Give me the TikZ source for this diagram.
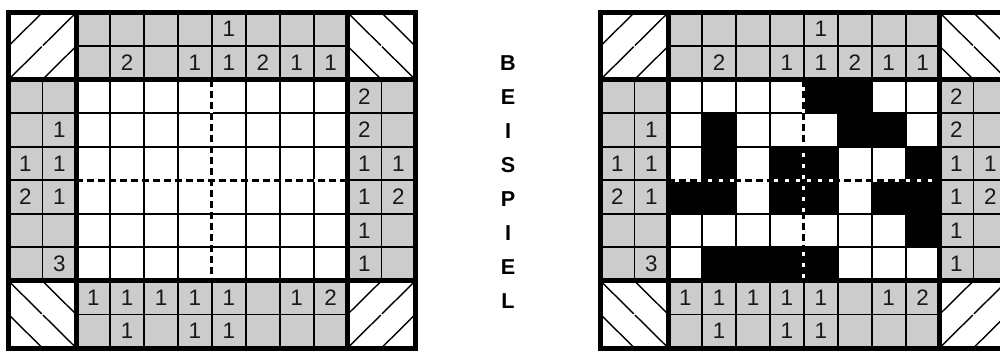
\documentclass[tikz,border=0pt]{standalone}
\usepackage{fontspec}
\setmainfont{Liberation Sans}
\definecolor{cluegray}{RGB}{204,204,204}
\tikzset{
  thingrid/.style={line width=1.8pt, black},
  thickgrid/.style={line width=5pt, black, line cap=rect},
  diagline/.style={line width=1.4pt, black, shorten >=0.8pt, shorten <=0.8pt},
  dashwhite/.style={line width=3pt, white},
  dashblack/.style={line width=3pt, black, dash pattern=on 7pt off 4pt},
  clue/.style={font=\fontsize{20}{22}\selectfont, inner sep=0pt, text=black!90, scale=1.12},
  letter/.style={font=\fontsize{16}{18}\selectfont\bfseries, inner sep=0pt, scale=1.35},
  cellscope/.style={x=33.9pt, y=-33.55pt}
}
\newcommand\drawpuzzle[1]{%
  \fill[cluegray] (2,0) rectangle (10,2);
  \fill[cluegray] (2,8) rectangle (10,10);
  \fill[cluegray] (0,2) rectangle (2,8);
  \fill[cluegray] (10,2) rectangle (12,8);
  \foreach \x in {3,4,5,7,8,9} \draw[thingrid] (\x,0) -- (\x,10);
  \draw[thingrid] (6,0) -- (6,2) (6,8) -- (6,10);
  \draw[thingrid] (1,2) -- (1,8) (11,2) -- (11,8);
  \foreach \y in {3,4,6,7} \draw[thingrid] (0,\y) -- (12,\y);
  \draw[thingrid] (0,5) -- (2,5) (10,5) -- (12,5);
  \draw[thingrid] (2,1) -- (10,1) (2,9) -- (10,9);
  \draw[dashwhite] (6,2) -- (6,8);
  \draw[dashblack] (6,2) -- (6,8);
  \draw[dashwhite] (2,5) -- (10,5);
  \draw[dashblack] (2,5) -- (10,5);
  \draw[thickgrid] (0,0) rectangle (12,10);
  \draw[thickgrid] (2,0) -- (2,10) (10,0) -- (10,10) (0,2) -- (12,2) (0,8) -- (12,8);
  \foreach \c/\r in {0/0,1/0,0/1,1/1,10/8,11/8,10/9,11/9}
    \draw[diagline] (\c,\r+1) -- (\c+1,\r);
  \foreach \c/\r in {10/0,11/0,10/1,11/1,0/8,1/8,0/9,1/9}
    \draw[diagline] (\c,\r) -- (\c+1,\r+1);
  \foreach \c/\r/\n in {6/0/1,3/1/2,5/1/1,6/1/1,7/1/2,8/1/1,9/1/1,
      2/8/1,3/8/1,4/8/1,5/8/1,6/8/1,8/8/1,9/8/2,3/9/1,5/9/1,6/9/1,
      1/3/1,0/4/1,1/4/1,0/5/2,1/5/1,1/7/3,
      10/2/2,10/3/2,10/4/1,11/4/1,10/5/1,11/5/2,10/6/1,10/7/1}
    \node[clue] (#1-c\c-\r) at (\c+0.5,\r+0.5) {\n};
}
\begin{document}
\begin{tikzpicture}[x=1pt, y=-1pt]
  \useasboundingbox (0,0) rectangle (1000,352);
  \fill[white] (0,0) rectangle (1000,352);
  % left puzzle
  \begin{scope}[shift={(8.5,12.5)}, cellscope]
    \drawpuzzle{A}
  \end{scope}
  % right puzzle (solution)
  \begin{scope}[shift={(600.5,12.5)}, cellscope]
    \foreach \c/\r in {6/2,7/2,3/3,7/3,8/3,3/4,5/4,6/4,9/4,2/5,3/5,5/5,6/5,8/5,9/5,9/6,3/7,4/7,5/7,6/7}
      \fill[black] (\c,\r) rectangle ++(1,1);
    \drawpuzzle{B}
  \end{scope}
  % BEISPIEL
  \foreach \l [count=\i from 0] in {B,E,I,S,P,I,E,L}
    \node[letter] (word\i) at (508, 62.7+34.1*\i) {\l};
\end{tikzpicture}
\end{document}
